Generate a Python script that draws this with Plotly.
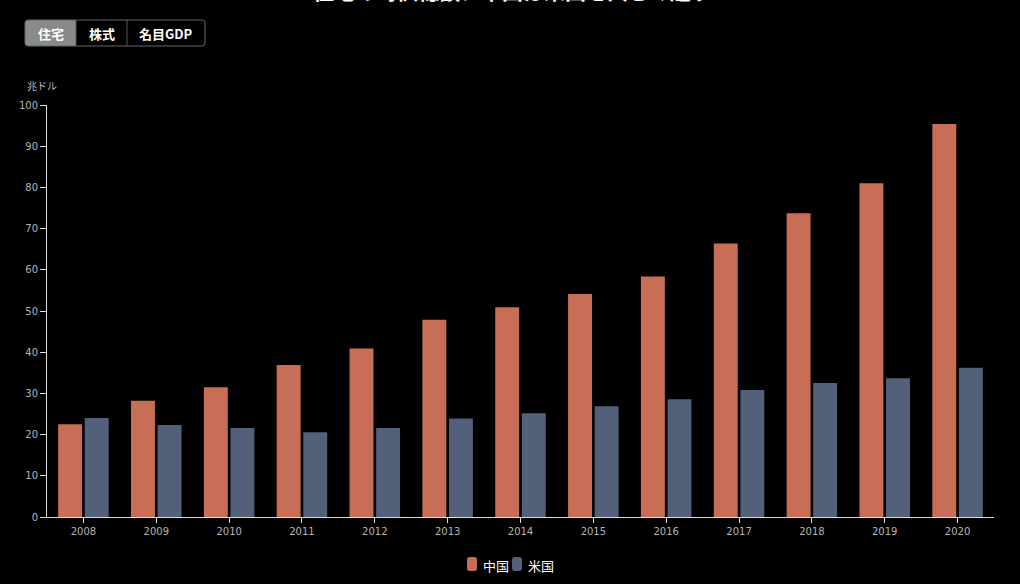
import plotly.graph_objects as go

years = ["2008", "2009", "2010", "2011", "2012", "2013", "2014",
         "2015", "2016", "2017", "2018", "2019", "2020"]
china = [22.5, 28.2, 31.5, 36.9, 40.9, 47.9, 50.9, 54.1, 58.4, 66.4, 73.7, 81.0, 95.4]
usa = [24.0, 22.3, 21.6, 20.6, 21.6, 23.9, 25.2, 26.9, 28.6, 30.8, 32.5, 33.7, 36.2]
series_names = ["中国", "米国"]
button_labels = ["住宅", "株式", "名目GDP"]
title_text = "住宅の時価総額、中国は米国を大きく超す"
unit_label = "兆ドル"

C_CHINA = "#C86E57"
C_US = "#52607A"
FONT = "Noto Sans CJK JP"
TICKFONT = "DejaVu Sans"

W, H = 1020, 584
ML, MR, MT, MB = 47, 26, 105, 67
PH = H - MT - MB
PW = W - ML - MR


def py(pix):
    return (H - MB - pix) / PH


def px(pix):
    return (pix - ML) / PW


def rrect(x0, y0, x1, y1, r):
    # rounded rectangle path in paper coords from pixel coords
    return (f"M {px(x0+r)},{py(y0)} L {px(x1-r)},{py(y0)} "
            f"Q {px(x1)},{py(y0)} {px(x1)},{py(y0+r)} "
            f"L {px(x1)},{py(y1-r)} Q {px(x1)},{py(y1)} {px(x1-r)},{py(y1)} "
            f"L {px(x0+r)},{py(y1)} Q {px(x0)},{py(y1)} {px(x0)},{py(y1-r)} "
            f"L {px(x0)},{py(y0+r)} Q {px(x0)},{py(y0)} {px(x0+r)},{py(y0)} Z")


fig = go.Figure()
fig.add_trace(go.Bar(x=years, y=china, name=series_names[0], showlegend=False,
                     marker=dict(color=C_CHINA, line=dict(width=0))))
fig.add_trace(go.Bar(x=years, y=usa, name=series_names[1], showlegend=False,
                     marker=dict(color=C_US, line=dict(width=0))))

shapes = []
annotations = []

# button group (static look)
bx = [25, 76, 127, 205]
by0, by1 = 20, 46
shapes.append(dict(type="path", xref="paper", yref="paper", layer="above",
                   path=(f"M {px(bx[0]+3)},{py(by0)} L {px(bx[1])},{py(by0)} "
                         f"L {px(bx[1])},{py(by1)} L {px(bx[0]+3)},{py(by1)} "
                         f"Q {px(bx[0])},{py(by1)} {px(bx[0])},{py(by1-3)} "
                         f"L {px(bx[0])},{py(by0+3)} Q {px(bx[0])},{py(by0)} {px(bx[0]+3)},{py(by0)} Z"),
                   fillcolor="#8a8a8a", line=dict(width=0)))
shapes.append(dict(type="path", xref="paper", yref="paper", layer="above",
                   path=rrect(bx[0], by0, bx[3], by1, 3),
                   line=dict(color="#666666", width=1), fillcolor="rgba(0,0,0,0)"))
for xx in bx[1:3]:
    shapes.append(dict(type="line", xref="paper", yref="paper", layer="above",
                       x0=px(xx), x1=px(xx), y0=py(by0), y1=py(by1),
                       line=dict(color="#555555", width=1)))
for i, lab in enumerate(button_labels):
    annotations.append(dict(text=f"<b>{lab}</b>", xref="paper", yref="paper",
                            x=px((bx[i] + bx[i+1]) / 2), y=py((by0 + by1) / 2),
                            xanchor="center", yanchor="middle", showarrow=False,
                            font=dict(family=FONT, size=13, color="#ffffff")))

# cut-off title (the reference shows only its lower edge)
annotations.append(dict(text=f"<b>{title_text}</b>", xref="paper", yref="paper",
                        x=px(512), y=py(-10), xanchor="center", yanchor="middle",
                        showarrow=False,
                        font=dict(family=FONT, size=21, color="#ffffff")))
# unit label
annotations.append(dict(text=unit_label, xref="paper", yref="paper",
                        x=px(25), y=py(86), xanchor="left", yanchor="middle",
                        showarrow=False,
                        font=dict(family=FONT, size=10, color="#bbbbbb")))

# custom legend
leg_items = [(467, series_names[0], C_CHINA), (512, series_names[1], C_US)]
for lx, name, col in leg_items:
    shapes.append(dict(type="path", xref="paper", yref="paper", layer="above",
                       path=rrect(lx, 557, lx + 10, 571, 3),
                       fillcolor=col, line=dict(width=0)))
    annotations.append(dict(text=name, xref="paper", yref="paper",
                            x=px(lx + 14), y=py(565), xanchor="left", yanchor="middle",
                            showarrow=False,
                            font=dict(family=FONT, size=13, color="#ffffff")))

fig.update_layout(
    width=W, height=H,
    margin=dict(l=ML, r=MR, t=MT, b=MB, pad=0),
    paper_bgcolor="#000000", plot_bgcolor="#000000",
    barmode="group", bargap=0.27, bargroupgap=0.1,
    font=dict(family=FONT, color="#bbbbbb"),
    showlegend=False,
    shapes=shapes, annotations=annotations,
    xaxis=dict(type="category", range=[-0.5, 12.5], showgrid=False, zeroline=False,
               showline=True, linecolor="#dddddd", linewidth=1,
               ticks="outside", ticklen=5, tickcolor="#dddddd",
               tickfont=dict(family=TICKFONT, size=10, color="#b4b4b4")),
    yaxis=dict(range=[0, 100], dtick=10, showgrid=False, zeroline=False,
               showline=True, linecolor="#dddddd", linewidth=1,
               ticks="outside", ticklen=6, tickcolor="#dddddd",
               tickfont=dict(family=TICKFONT, size=10, color="#b4b4b4")),
)

fig.write_html("out.html", config={"displayModeBar": False},
               post_script="document.body.style.margin='0px';document.body.style.background='#000';")
